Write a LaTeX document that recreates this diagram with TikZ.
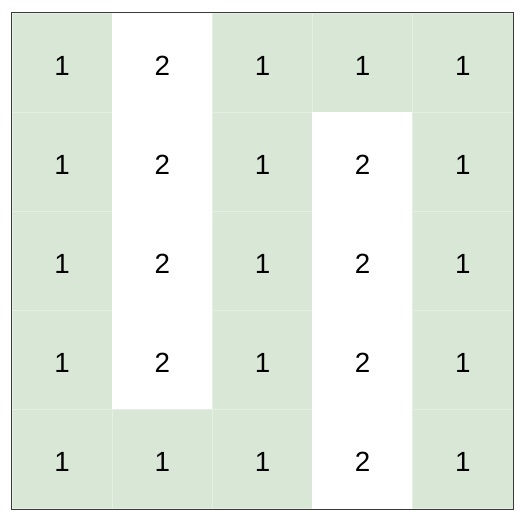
\documentclass[tikz,border=0pt]{standalone}
\usepackage{fontspec}
\setmainfont{Liberation Sans}

\definecolor{cellgreen}{HTML}{D9E7D6}
\definecolor{cellline}{HTML}{E6EFE4}
\definecolor{frameline}{HTML}{3A3A3A}

\begin{document}
\begin{tikzpicture}[x=0.02cm, y=-0.02cm,
    cell/.style={rectangle, minimum width=2.004cm, minimum height=1.984cm, inner sep=0pt,
                 text height=0.5cm, text depth=0pt, font=\fontsize{15.8}{18}\selectfont},
    one/.style={cell, fill=cellgreen, draw=cellline, line width=0.02cm},
    two/.style={cell, fill=white, draw=white, line width=0.02cm}]

         \useasboundingbox (0,0) rectangle (523,520);

         % row 1
         \node [one] (r1c1) at (62.1,62.6)  {1};
         \node [two] (r1c2) at (162.3,62.6) {2};
         \node [one] (r1c3) at (262.5,62.6) {1};
         \node [one] (r1c4) at (362.7,62.6) {1};
         \node [one] (r1c5) at (462.9,62.6) {1};

         % row 2
         \node [one] (r2c1) at (62.1,161.8)  {1};
         \node [two] (r2c2) at (162.3,161.8) {2};
         \node [one] (r2c3) at (262.5,161.8) {1};
         \node [two] (r2c4) at (362.7,161.8) {2};
         \node [one] (r2c5) at (462.9,161.8) {1};

         % row 3
         \node [one] (r3c1) at (62.1,261)  {1};
         \node [two] (r3c2) at (162.3,261) {2};
         \node [one] (r3c3) at (262.5,261) {1};
         \node [two] (r3c4) at (362.7,261) {2};
         \node [one] (r3c5) at (462.9,261) {1};

         % row 4
         \node [one] (r4c1) at (62.1,360.2)  {1};
         \node [two] (r4c2) at (162.3,360.2) {2};
         \node [one] (r4c3) at (262.5,360.2) {1};
         \node [two] (r4c4) at (362.7,360.2) {2};
         \node [one] (r4c5) at (462.9,360.2) {1};

         % row 5
         \node [one] (r5c1) at (62.1,459.4)  {1};
         \node [one] (r5c2) at (162.3,459.4) {1};
         \node [one] (r5c3) at (262.5,459.4) {1};
         \node [two] (r5c4) at (362.7,459.4) {2};
         \node [one] (r5c5) at (462.9,459.4) {1};

         \draw [frameline, line width=0.03cm] (r1c1.north west) rectangle (r5c5.south east);

\end{tikzpicture}
\end{document}
